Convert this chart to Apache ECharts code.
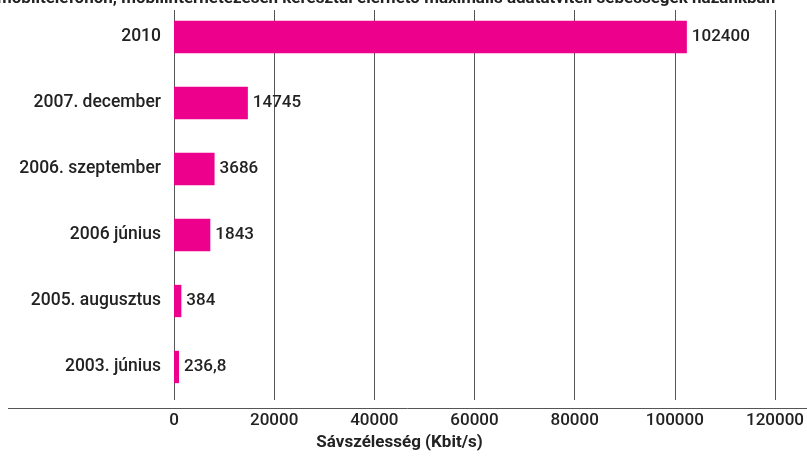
<!DOCTYPE html>
<html>
<head>
<meta charset="utf-8">
<script src="https://cdn.jsdelivr.net/npm/echarts@6/dist/echarts.min.js"></script>
<style>html,body{margin:0;padding:0;background:#fff;}#c{width:807px;height:456px;}</style>
</head>
<body>
<div id="c"></div>
<script>
// Data
const categories = ['2010', '2007. december', '2006. szeptember', '2006 június', '2005. augusztus', '2003. június'];
// Values printed next to each bar
const valueLabels = ['102400', '14745', '3686', '1843', '384', '236,8'];
// Bar lengths as drawn in the original (in Kbit/s on the axis scale; the original exaggerates the small bars)
const drawnValues = [102400, 14745, 8100, 7250, 1470, 1000];
const xTicks = [0, 20000, 40000, 60000, 80000, 100000, 120000];
const titleText = 'mobiltelefonon, mobilinternetezésen keresztül elérhető maximális adatátviteli sebességek hazánkban';
const axisTitle = 'Sávszélesség (Kbit/s)';

const chart = echarts.init(document.getElementById('c'), null, {renderer: 'canvas'});
const option = {
  animation: false,
  backgroundColor: '#fff',
  textStyle: {fontFamily: 'Roboto, "Liberation Sans", sans-serif'},
  grid: {left: 174, right: 30, top: 4, bottom: 48, containLabel: false},
  xAxis: {
    type: 'value',
    min: xTicks[0],
    max: xTicks[xTicks.length - 1],
    interval: 20000,
    axisLine: {show: false},
    axisTick: {show: false},
    splitLine: {show: true, lineStyle: {color: '#555', width: 1}},
    axisLabel: {
      color: '#222', fontSize: 17, fontWeight: 500, margin: 12,
      fontFamily: 'Roboto, sans-serif',
      formatter: v => String(v)
    },
    name: axisTitle,
    nameLocation: 'middle',
    nameGap: 34,
    nameTextStyle: {
      color: '#222', fontSize: 17, fontWeight: 'bold',
      fontFamily: 'Roboto, sans-serif',
      padding: [0, 150, 0, 0]
    }
  },
  yAxis: {
    type: 'category',
    data: categories,
    inverse: true,
    axisLine: {show: false},
    axisTick: {show: false},
    splitLine: {show: false},
    axisLabel: {color: '#222', fontSize: 17.5, fontWeight: 500, margin: 13}
  },
  series: [{
    type: 'bar',
    data: drawnValues,
    barCategoryGap: '51%',
    itemStyle: {color: '#EC008C'},
    label: {
      show: true,
      position: 'right',
      distance: 5,
      color: '#222',
      fontSize: 17,
      fontWeight: 500,
      formatter: p => valueLabels[p.dataIndex]
    }
  }],
  graphic: [
    {type: 'rect', z: 100, shape: {x: 0, y: 0, width: 807, height: 10}, style: {fill: '#fff'}},
    {type: 'text', z: 101, left: -3, top: -10,
     style: {text: titleText, fill: '#222', font: 'bold 17px Roboto, "Liberation Sans", sans-serif'}},
    {type: 'line', z: 100, shape: {x1: 8, y1: 408.5, x2: 807, y2: 408.5}, style: {stroke: '#555', lineWidth: 1}}
  ]
};
chart.setOption(option);
</script>
</body>
</html>
